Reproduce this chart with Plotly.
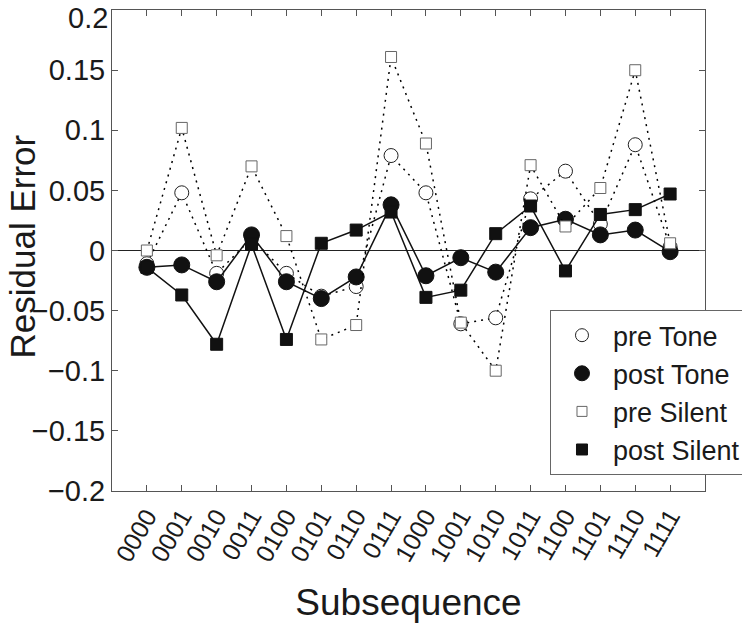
import plotly.graph_objects as go

categories = ['0000', '0001', '0010', '0011', '0100', '0101', '0110', '0111',
              '1000', '1001', '1010', '1011', '1100', '1101', '1110', '1111']
pre_tone = [-0.011, 0.048, -0.019, 0.010, -0.019, -0.038, -0.030, 0.079,
            0.048, -0.061, -0.056, 0.043, 0.066, 0.022, 0.088, 0.003]
post_tone = [-0.014, -0.012, -0.026, 0.013, -0.026, -0.040, -0.022, 0.038,
             -0.021, -0.006, -0.018, 0.019, 0.026, 0.013, 0.017, -0.001]
pre_silent = [0.000, 0.102, -0.004, 0.070, 0.012, -0.074, -0.062, 0.161,
              0.089, -0.060, -0.100, 0.071, 0.020, 0.052, 0.150, 0.006]
post_silent = [-0.014, -0.037, -0.078, 0.005, -0.074, 0.006, 0.017, 0.032,
               -0.039, -0.033, 0.014, 0.037, -0.017, 0.030, 0.034, 0.047]
y_ticks = [-0.2, -0.15, -0.1, -0.05, 0, 0.05, 0.1, 0.15, 0.2]
y_tick_labels = ['\u22120.2', '\u22120.15', '\u22120.1', '\u22120.05', '0',
                 '0.05', '0.1', '0.15', '0.2']

xs = list(range(1, len(categories) + 1))
FONT = "Liberation Sans, Arial, Helvetica, sans-serif"
TXT = '#1a1a1a'

styles = {
    'pre Tone': dict(line=dict(color='black', width=1.5, dash='2px,5px'),
                     marker=dict(symbol='circle', size=14, color='white',
                                 line=dict(color='#222', width=1))),
    'post Tone': dict(line=dict(color='#111', width=1.5),
                      marker=dict(symbol='circle', size=16, color='#111',
                                  line=dict(color='#111', width=1))),
    'pre Silent': dict(line=dict(color='black', width=1.5, dash='2px,5px'),
                       marker=dict(symbol='square', size=11, color='white',
                                   line=dict(color='#666', width=1))),
    'post Silent': dict(line=dict(color='#111', width=1.5),
                        marker=dict(symbol='square', size=12, color='#111',
                                    line=dict(color='#111', width=1))),
}
series = [('pre Tone', pre_tone), ('post Tone', post_tone),
          ('pre Silent', pre_silent), ('post Silent', post_silent)]

fig = go.Figure()
for name, vals in series:
    st = styles[name]
    fig.add_trace(go.Scatter(x=xs, y=vals, name=name, mode='lines+markers',
                             line=st['line'], marker=st['marker'],
                             showlegend=False))
# legend entries show markers only (as in the reference)
legend_sizes = {'pre Tone': 13, 'post Tone': 15, 'pre Silent': 10, 'post Silent': 11}
for name, _ in series:
    st = styles[name]
    m = dict(st['marker'])
    m['size'] = legend_sizes[name]
    fig.add_trace(go.Scatter(x=[None], y=[None], name=name, mode='markers',
                             marker=m, showlegend=True))

# top tick label drawn as an annotation so it is not clipped at the page top
shown_labels = list(y_tick_labels)
shown_labels[-1] = ''
fig.add_annotation(xref='paper', yref='paper', x=0, y=1, xanchor='right',
                   yanchor='top', xshift=-2, yshift=10, showarrow=False,
                   text=y_tick_labels[-1], font=dict(size=29, color=TXT))
# y-axis title placed explicitly (close to the left edge as in the reference)
fig.add_annotation(xref='paper', yref='paper', x=-0.1513, y=0.509,
                   xanchor='center', yanchor='middle', textangle=-90,
                   showarrow=False, text='Residual Error',
                   font=dict(size=35, color=TXT))

# the page body has an 8px margin; the figure is sized to fit the window
fig.update_layout(
    width=742, height=620,
    margin=dict(l=104, r=45, t=2, b=137, autoexpand=False),
    paper_bgcolor='white', plot_bgcolor='white',
    font=dict(family=FONT, size=29, color=TXT),
    showlegend=True,
    legend=dict(x=0.7386, y=0.376, xanchor='left', yanchor='top',
                bgcolor='white', bordercolor='#666', borderwidth=1,
                font=dict(size=27), tracegroupgap=0, itemwidth=52),
    xaxis=dict(
        range=[0, 17], tickvals=xs, ticktext=categories, tickangle=-60,
        showgrid=False, zeroline=False, showline=True, linecolor='#555',
        linewidth=1, mirror='allticks', ticks='inside', ticklen=6,
        tickcolor='#555', tickfont=dict(size=25),
        title=dict(text='Subsequence', font=dict(size=37), standoff=23)),
    yaxis=dict(
        range=[-0.2001, 0.2001], tickvals=y_ticks, ticktext=shown_labels,
        showgrid=False, zeroline=True, zerolinecolor='#222', zerolinewidth=1,
        showline=True, linecolor='#555', linewidth=1, mirror='allticks',
        ticks='inside', ticklen=6, tickcolor='#555', tickfont=dict(size=29)),
)

fig.write_html("out.html")
